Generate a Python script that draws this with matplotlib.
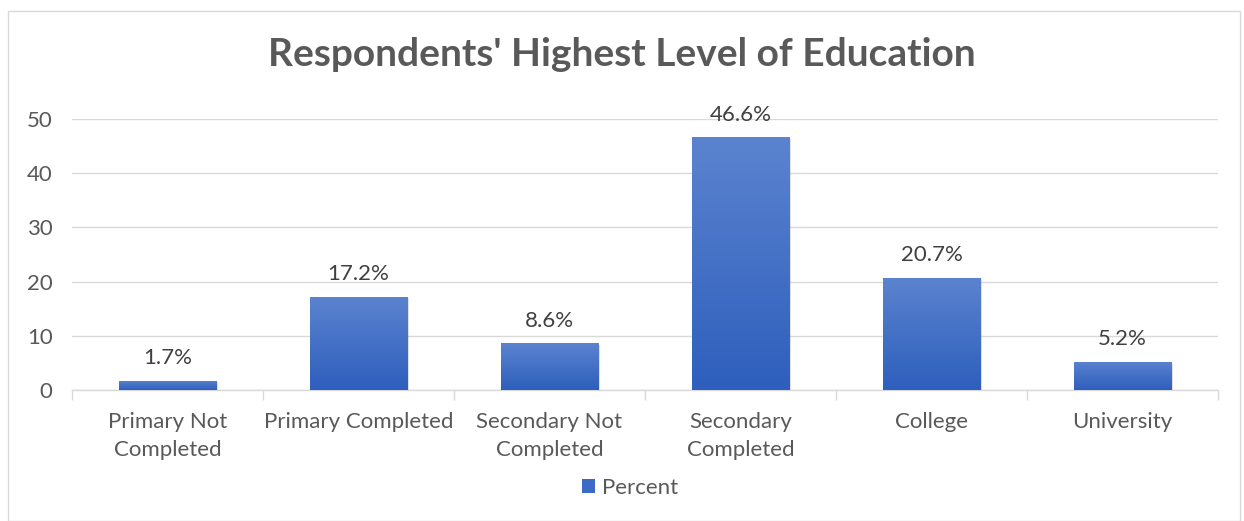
import matplotlib
matplotlib.use("Agg")
import matplotlib.pyplot as plt
import numpy as np
from matplotlib.patches import Rectangle, Patch
from matplotlib.colors import LinearSegmentedColormap

categories = ["Primary Not\nCompleted", "Primary Completed", "Secondary Not\nCompleted",
              "Secondary\nCompleted", "College", "University"]
values = [1.7, 17.2, 8.6, 46.6, 20.7, 5.2]
labels = ["1.7%", "17.2%", "8.6%", "46.6%", "20.7%", "5.2%"]
yticks = [0, 10, 20, 30, 40, 50]
title = "Respondents' Highest Level of Education"
series_name = "Percent"

plt.rcParams['font.family'] = ['Lato', 'DejaVu Sans']
text_color = "#595959"

fig = plt.figure(figsize=(12.44, 5.21), dpi=100)
ax = fig.add_axes([72/1244, 1-390/521, (1218-72)/1244, (390-119)/521])

x = np.arange(len(categories))
width = 0.51
cmap = LinearSegmentedColormap.from_list("g", ["#2E5FBD", "#5B83CF"])
grad = np.linspace(0, 1, 256).reshape(-1, 1)

bars = ax.bar(x, values, width=width, color="none", zorder=3, label=series_name)
for b in bars:
    x0, y0, w, h = b.get_x(), b.get_y(), b.get_width(), b.get_height()
    ax.add_patch(Rectangle((x0 + 0.01, y0 - 0.25), w, h, color="#000000", alpha=0.12, zorder=2, lw=0))
    im = ax.imshow(grad, cmap=cmap, extent=[x0, x0 + w, y0, y0 + h], origin="lower",
                   aspect="auto", zorder=3)
    im.set_clip_path(b)

for xi, v, lab in zip(x, values, labels):
    ax.text(xi, v + 2.3, lab, ha="center", va="bottom", fontsize=16, color="#404040")

ax.set_xlim(-0.5, len(categories) - 0.5)
ax.set_ylim(0, 50)
ax.set_yticks(yticks)
ax.set_yticklabels([str(t) for t in yticks], fontsize=16, color=text_color)
ax.yaxis.grid(True, color="#D9D9D9", lw=1.0, zorder=0)
ax.set_axisbelow(True)
ax.tick_params(axis="y", length=0, pad=14)
ax.set_xticks(x)
ax.set_xticklabels(categories, fontsize=16, color=text_color, linespacing=1.5)
ax.tick_params(axis="x", length=0, pad=16)
ax.set_xticks(np.arange(-0.5, len(categories)), minor=True)
ax.tick_params(axis="x", which="minor", length=7, color="#D9D9D9", width=1)
for s in ["top", "right", "left"]:
    ax.spines[s].set_visible(False)
ax.spines["bottom"].set_color("#D9D9D9")
ax.spines["bottom"].set_linewidth(1.0)

fig.text(0.5, 1-55/521, title, ha="center", va="center", fontsize=28, fontweight="bold", color=text_color)

h = [Patch(facecolor="#3D6AC6", edgecolor="none")]
fig.legend(h, [series_name], loc="center", bbox_to_anchor=(630/1244, 1-488/521), frameon=False,
           fontsize=16, handlelength=0.6, handleheight=0.6, handletextpad=0.3, labelcolor=text_color)

fig.add_artist(Rectangle((8/1244, 0.5/521), (1240-8)/1244, (521-11)/521, transform=fig.transFigure,
                         fill=False, edgecolor="#D9D9D9", lw=1))

fig.savefig("out.png", dpi=100)
